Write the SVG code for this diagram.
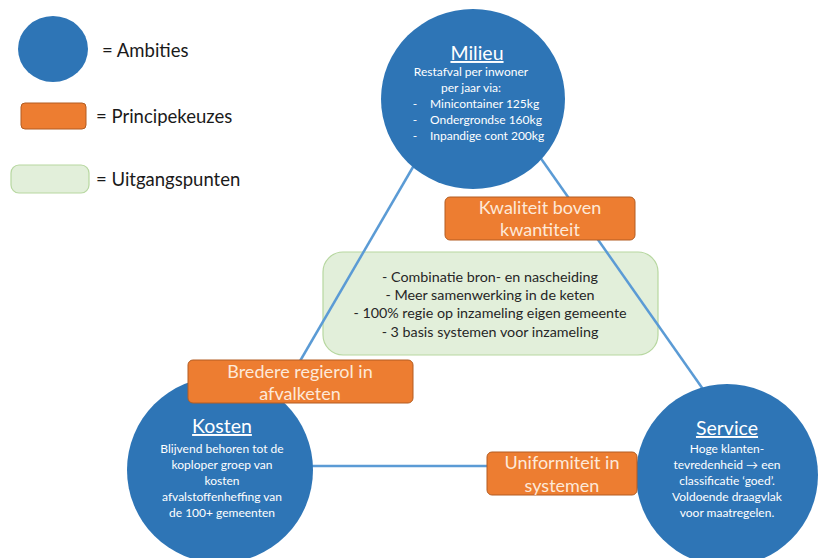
<svg xmlns="http://www.w3.org/2000/svg" width="822" height="558" viewBox="0 0 822 558">
<style>
text{font-family:Lato,"Open Sans","Liberation Sans",sans-serif}
.amb{fill:#2e75b6}
.leg{font-size:18.5px;fill:#1a1a1a}
.title{font-size:19.5px;fill:#ffffff;text-decoration:underline;text-anchor:middle}
.body{font-size:12px;fill:#ffffff;text-anchor:middle}
.pk{fill:#ed7d31;stroke:#b35d22;stroke-width:1}
.pkt{font-size:18px;fill:#fde9d9;text-anchor:middle}
.up{fill:#e2efda;stroke:#b7d7a0;stroke-width:1.2}
.upt{font-size:14.3px;fill:#262626;text-anchor:middle}
.con{stroke:#5b9bd5;stroke-width:2.5;fill:none}
</style>
<rect width="822" height="558" fill="#ffffff"/>
<g id="legend">
<ellipse class="amb" cx="53" cy="49" rx="35" ry="33"/>
<text class="leg" x="102" y="57">= Ambities</text>
<rect class="pk" x="21" y="103" width="65" height="26" rx="4"/>
<text class="leg" x="96" y="123">= Principekeuzes</text>
<rect class="up" x="11" y="165" width="78" height="28" rx="8"/>
<text class="leg" x="96" y="186">= Uitgangspunten</text>
</g>
<g id="uitgangspunten">
<rect class="up" x="323" y="252" width="335" height="103" rx="20"/>
<text class="upt" x="490" y="282">- Combinatie bron- en nascheiding</text>
<text class="upt" x="490" y="300">- Meer samenwerking in de keten</text>
<text class="upt" x="490" y="318">- 100% regie op inzameling eigen gemeente</text>
<text class="upt" x="490" y="337">- 3 basis systemen voor inzameling</text>
</g>
<g id="connectors">
<line class="con" x1="420" y1="155" x2="282" y2="392"/>
<line class="con" x1="535" y1="150" x2="705" y2="392"/>
<line class="con" x1="300" y1="466" x2="650" y2="466"/>
</g>
<g id="milieu">
<ellipse class="amb" cx="473" cy="99" rx="92" ry="90"/>
<text class="title" x="477" y="60">Milieu</text>
<text class="body" x="471" y="76">Restafval per inwoner</text>
<text class="body" x="471" y="92">per jaar via:</text>
<text class="body" x="415" y="108">-</text>
<text class="body" x="415" y="124">-</text>
<text class="body" x="415" y="140">-</text>
<text class="body" x="430" y="108" style="text-anchor:start">Minicontainer 125kg</text>
<text class="body" x="430" y="124" style="text-anchor:start">Ondergrondse 160kg</text>
<text class="body" x="430" y="140" style="text-anchor:start">Inpandige cont 200kg</text>
</g>
<g id="kosten">
<circle class="amb" cx="220" cy="470" r="93"/>
<text class="title" x="222" y="433">Kosten</text>
<text class="body" x="222" y="453">Blijvend behoren tot de</text>
<text class="body" x="222" y="469">koploper groep van</text>
<text class="body" x="222" y="485">kosten</text>
<text class="body" x="222" y="501">afvalstoffenheffing van</text>
<text class="body" x="222" y="517">de 100+ gemeenten</text>
</g>
<g id="service">
<circle class="amb" cx="727" cy="475" r="91"/>
<text class="title" x="727" y="435">Service</text>
<text class="body" x="727" y="453">Hoge klanten-</text>
<text class="body" x="727" y="469">tevredenheid → een</text>
<text class="body" x="727" y="485">classificatie ‘goed’.</text>
<text class="body" x="727" y="501">Voldoende draagvlak</text>
<text class="body" x="727" y="517">voor maatregelen.</text>
</g>
<g id="kwaliteit">
<rect class="pk" x="445" y="197" width="190" height="43" rx="5"/>
<text class="pkt" x="540" y="214">Kwaliteit boven</text>
<text class="pkt" x="540" y="236">kwantiteit</text>
</g>
<g id="bredere">
<rect class="pk" x="188" y="360" width="225" height="43" rx="5"/>
<text class="pkt" x="300" y="378">Bredere regierol in</text>
<text class="pkt" x="300" y="400">afvalketen</text>
</g>
<g id="uniformiteit">
<rect class="pk" x="487" y="452" width="150" height="43" rx="5"/>
<text class="pkt" x="562" y="469">Uniformiteit in</text>
<text class="pkt" x="562" y="492">systemen</text>
</g>
</svg>
